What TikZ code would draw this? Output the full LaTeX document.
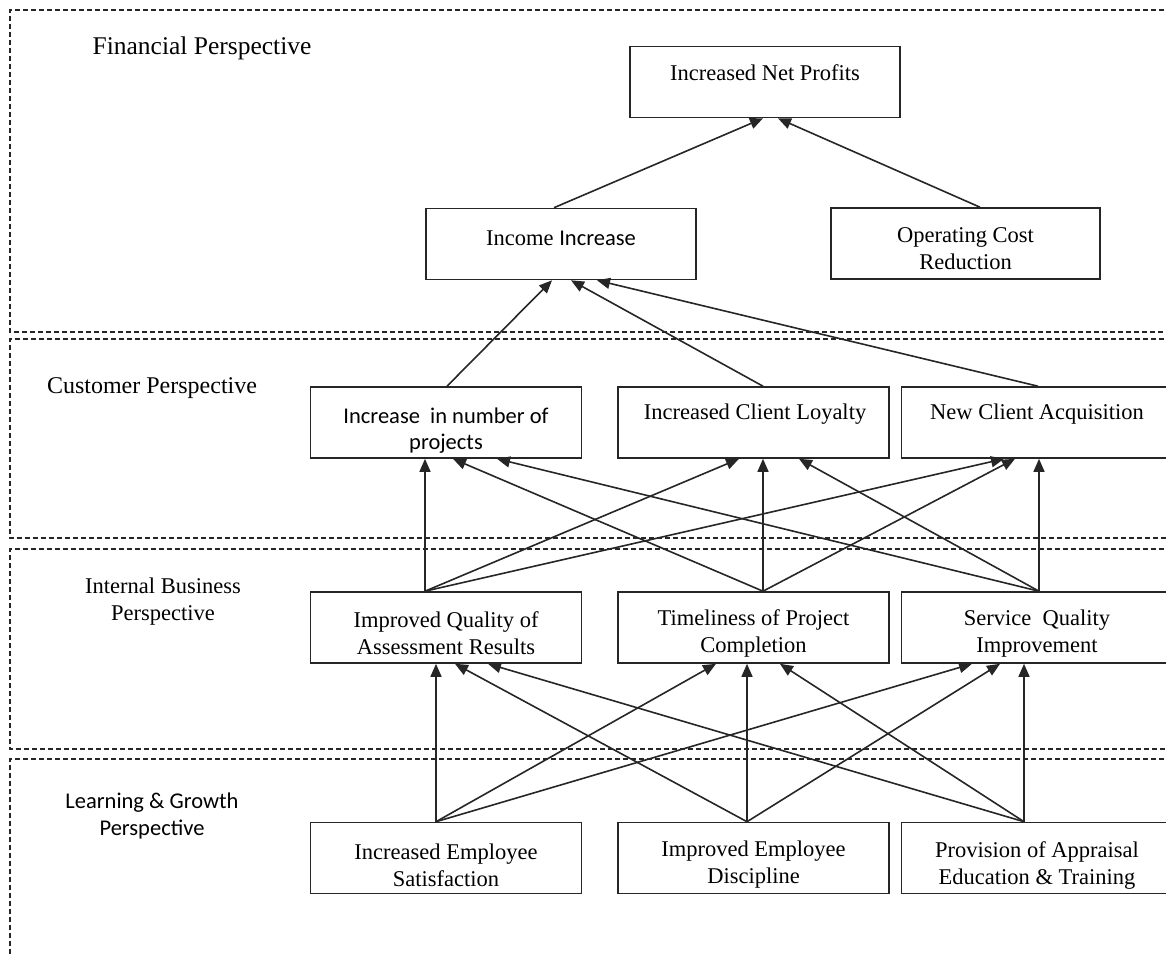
\documentclass[tikz,border=0pt]{standalone}
\usepackage{fontspec}
\setmainfont{Liberation Serif}
\newfontfamily\calib{Carlito}
\usetikzlibrary{arrows.meta}
\begin{document}
\begin{tikzpicture}[x=1pt,y=-1pt,
  box/.style={draw=black!85, line width=1.6pt, minimum width=271pt, minimum height=71pt, inner sep=0pt},
  txt/.style={inner sep=0pt, align=center, font=\fontsize{22.5}{27}\selectfont},
  sanstxt/.style={inner sep=0pt, align=center, font=\calib\fontsize{22.5}{26.5}\selectfont},
  frame/.style={draw=black!85, line width=1.3pt, dash pattern=on 5pt off 3pt},
  arr/.style={line width=1.6pt, draw=black!85, -{Triangle[length=13pt,width=11pt]}}]
\useasboundingbox (0,0) rectangle (1166,954);
\clip (0,0) rectangle (1166,954);

% perspective frames
\draw[frame] (1180,10) -- (10,10) -- (10,332) -- (1180,332);
\draw[frame] (1180,339) -- (10,339) -- (10,538) -- (1180,538);
\draw[frame] (1180,549) -- (10,549) -- (10,749) -- (1180,749);
\draw[frame] (1180,759) -- (10,759) -- (10,970);

% perspective labels
\node[txt, font=\fontsize{25.5}{30}\selectfont] (finl) at (202,48) {Financial Perspective};
\node[txt, font=\fontsize{24}{28}\selectfont] (cusl) at (152,388) {Customer Perspective};
\node[txt] (intl) at (163,602) {Internal Business\\Perspective};
\node[sanstxt] (lgl) at (152,816) {Learning \& Growth\\Perspective};

% boxes
\node[box, minimum width=270pt] (np) at (765,82) {};
\node[box, minimum width=270pt] (inc) at (561,244) {};
\node[box, minimum width=269pt] (opc) at (965.5,243.5) {};
\node[box] (num) at (446,422.5) {};
\node[box] (loy) at (753.5,422.5) {};
\node[box] (new) at (1037,422.5) {};
\node[box] (qual) at (446,627.5) {};
\node[box] (time) at (753.5,627.5) {};
\node[box] (serv) at (1037,627.5) {};
\node[box] (sat) at (446,858) {};
\node[box] (disc) at (753.5,858) {};
\node[box] (appr) at (1037,858) {};

% box texts
\node[txt] (npt) at (765,73) {Increased Net Profits};
\node[txt] (inct) at (561,238) {Income {\calib Increase}};
\node[txt] (opct) at (965.5,249) {Operating Cost\\Reduction};
\node[sanstxt] (numt) at (446,430.5) {Increase\ \ in number of\\projects};
\node[txt] (loyt) at (755,414) {Increased Client Loyalty};
\node[txt] (newt) at (1037,414) {New Client Acquisition};
\node[txt] (qualt) at (446,633.5) {Improved Quality of\\Assessment Results};
\node[txt] (timet) at (753.5,633.5) {Timeliness of Project\\Completion};
\node[txt] (servt) at (1037,633.5) {Service\ \ Quality\\Improvement};
\node[txt] (satt) at (446,865) {Increased Employee\\Satisfaction};
\node[txt] (disct) at (753.5,865) {Improved Employee\\Discipline};
\node[txt] (apprt) at (1037,865) {Provision of Appraisal\\Education \& Training};

% financial
\draw[arr] ([xshift=-7]inc.north) -- ([xshift=-2]np.south);
\draw[arr] ([xshift=14.5]opc.north) -- ([xshift=13]np.south);
% customer -> income
\draw[arr] ([xshift=1]num.north) -- ([xshift=-9]inc.south);
\draw[arr] ([xshift=9.5]loy.north) -- ([xshift=10]inc.south);
\draw[arr] ([xshift=1]new.north) -- ([xshift=36]inc.south);
% internal -> customer
\draw[arr] ([xshift=-21]qual.north) -- ([xshift=-21]num.south);
\draw[arr] ([xshift=-21]qual.north) -- ([xshift=-14.5]loy.south);
\draw[arr] ([xshift=-21]qual.north) -- ([xshift=-33]new.south);
\draw[arr] ([xshift=9.5]time.north) -- ([xshift=7]num.south);
\draw[arr] ([xshift=9.5]time.north) -- ([xshift=9.5]loy.south);
\draw[arr] ([xshift=9.5]time.north) -- ([xshift=-22]new.south);
\draw[arr] ([xshift=2]serv.north) -- ([xshift=51]num.south);
\draw[arr] ([xshift=2]serv.north) -- ([xshift=45.5]loy.south);
\draw[arr] ([xshift=2]serv.north) -- ([xshift=2]new.south);
% learning -> internal
\draw[arr] ([xshift=-10]sat.north) -- ([xshift=-10]qual.south);
\draw[arr] ([xshift=-10]sat.north) -- ([xshift=-37.5]time.south);
\draw[arr] ([xshift=-10]sat.north) -- ([xshift=-65]serv.south);
\draw[arr] ([xshift=-6.5]disc.north) -- ([xshift=9]qual.south);
\draw[arr] ([xshift=-6.5]disc.north) -- ([xshift=-6.5]time.south);
\draw[arr] ([xshift=-6.5]disc.north) -- ([xshift=-37]serv.south);
\draw[arr] ([xshift=-13]appr.north) -- ([xshift=42]qual.south);
\draw[arr] ([xshift=-13]appr.north) -- ([xshift=26.5]time.south);
\draw[arr] ([xshift=-13]appr.north) -- ([xshift=-13]serv.south);
\end{tikzpicture}
\end{document}
